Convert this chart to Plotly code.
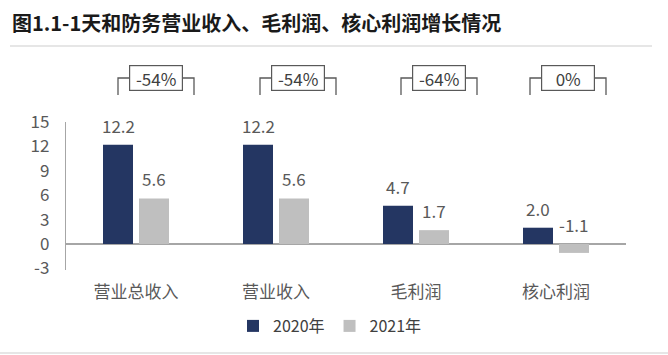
import plotly.graph_objects as go

# ---------------- data ----------------
categories = ["营业总收入", "营业收入", "毛利润", "核心利润"]
values_2020 = [12.2, 12.2, 4.7, 2.0]
values_2021 = [5.6, 5.6, 1.7, -1.1]
growth_labels = ["-54%", "-54%", "-64%", "0%"]
series_names = ["2020年", "2021年"]
y_ticks = [-3, 0, 3, 6, 9, 12, 15]
title_text = "图1.1-1天和防务营业收入、毛利润、核心利润增长情况"

# ---------------- style / layout constants ----------------
W, H = 668, 355
PLOT_L, PLOT_R, PLOT_T, PLOT_B = 66, 626, 122, 270
Y_RANGE = [-3.2, 15]
COLORS = ["#243662", "#BFBFBF"]
FONT = "Noto Sans CJK SC, Noto Sans, sans-serif"
LABEL_COLOR = "#595959"
BAR_W = 30 / 140          # bar width in category units
BAR_OFF = [-33 / 140, 3 / 140]
BRACKET_SHIFT_PX = [20, 22, 23, 12]   # horizontal shift of growth brackets
BRACKET_HALF_PX = 38
BRACKET_TOP_PX, BRACKET_BOT_PX = 78, 95

pw = PLOT_R - PLOT_L
ph = PLOT_B - PLOT_T


def px_to_paper_y(py):
    return (PLOT_B - py) / ph


def px_to_paper_x(px):
    return (px - PLOT_L) / pw


fig = go.Figure()
for name, vals, col, off in zip(series_names, [values_2020, values_2021], COLORS, BAR_OFF):
    fig.add_trace(go.Bar(
        x=list(range(len(categories))), y=vals, name=name,
        marker=dict(color=col, line=dict(width=0)),
        width=BAR_W, offset=off,
    ))

annotations = []
# value labels
for vals, off in zip([values_2020, values_2021], BAR_OFF):
    for i, v in enumerate(vals):
        annotations.append(dict(
            x=i + off + BAR_W / 2, y=max(v, 0), xref="x", yref="y",
            text=f"{v:.1f}", showarrow=False, yanchor="bottom", yshift=5,
            font=dict(size=17, color=LABEL_COLOR, family=FONT),
        ))

shapes = []
# growth brackets
for i, lab in enumerate(growth_labels):
    cx_px = PLOT_L + (i + 0.5) * pw / len(categories) + BRACKET_SHIFT_PX[i]
    xl = px_to_paper_x(cx_px - BRACKET_HALF_PX)
    xr = px_to_paper_x(cx_px + BRACKET_HALF_PX)
    yt = px_to_paper_y(BRACKET_TOP_PX)
    yb = px_to_paper_y(BRACKET_BOT_PX)
    shapes.append(dict(
        type="path", xref="paper", yref="paper",
        path=f"M {xl} {yb} L {xl} {yt} L {xr} {yt} L {xr} {yb}",
        line=dict(color="#595959", width=1.3),
    ))
    annotations.append(dict(
        x=px_to_paper_x(cx_px), y=yt, xref="paper", yref="paper",
        text=lab, showarrow=False, xanchor="center", yanchor="middle",
        width=48, height=20, borderpad=2,
        bordercolor="#595959", borderwidth=1.2, bgcolor="white",
        font=dict(size=17, color="#404040", family=FONT),
    ))

# title and separator lines
annotations.append(dict(
    x=px_to_paper_x(10), y=px_to_paper_y(22), xref="paper", yref="paper",
    text=f"<b>{title_text}</b>", showarrow=False, xanchor="left", yanchor="middle",
    font=dict(size=20, color="#1a1a1a", family=FONT),
))
shapes.append(dict(type="line", xref="paper", yref="paper",
                   x0=px_to_paper_x(10), x1=px_to_paper_x(652),
                   y0=px_to_paper_y(46), y1=px_to_paper_y(46),
                   line=dict(color="#E6E6E6", width=2)))
shapes.append(dict(type="line", xref="paper", yref="paper",
                   x0=px_to_paper_x(0), x1=px_to_paper_x(W),
                   y0=px_to_paper_y(353), y1=px_to_paper_y(353),
                   line=dict(color="#E6E6E6", width=2)))

fig.update_layout(
    width=W, height=H,
    margin=dict(l=PLOT_L, r=W - PLOT_R, t=PLOT_T, b=H - PLOT_B, autoexpand=False),
    paper_bgcolor="white", plot_bgcolor="white",
    barmode="overlay",
    font=dict(family=FONT, color=LABEL_COLOR),
    showlegend=True,
    legend=dict(orientation="h", x=px_to_paper_x(330), xanchor="center",
                y=px_to_paper_y(326), yanchor="middle",
                font=dict(size=16, color="#404040", family=FONT),
                itemwidth=30, traceorder="normal"),
    annotations=annotations, shapes=shapes,
)
fig.update_xaxes(
    range=[-0.5, len(categories) - 0.5],
    tickmode="array", tickvals=list(range(len(categories))), ticktext=categories,
    tickfont=dict(size=17, color=LABEL_COLOR, family=FONT),
    showgrid=False, zeroline=False, showline=False, ticks="",
    ticklabelstandoff=10, fixedrange=True,
)
fig.update_yaxes(
    range=Y_RANGE, tickmode="array", tickvals=y_ticks,
    ticktext=[str(t) for t in y_ticks],
    tickfont=dict(size=17, color=LABEL_COLOR, family=FONT),
    showgrid=False, zeroline=True, zerolinecolor="#A6A6A6", zerolinewidth=1.5,
    showline=True, linecolor="#A6A6A6", linewidth=1.3, ticks="",
    ticklabelstandoff=12, fixedrange=True,
)

fig.write_html("out.html", config={"displayModeBar": False},
               post_script="document.body.style.margin='0';")
